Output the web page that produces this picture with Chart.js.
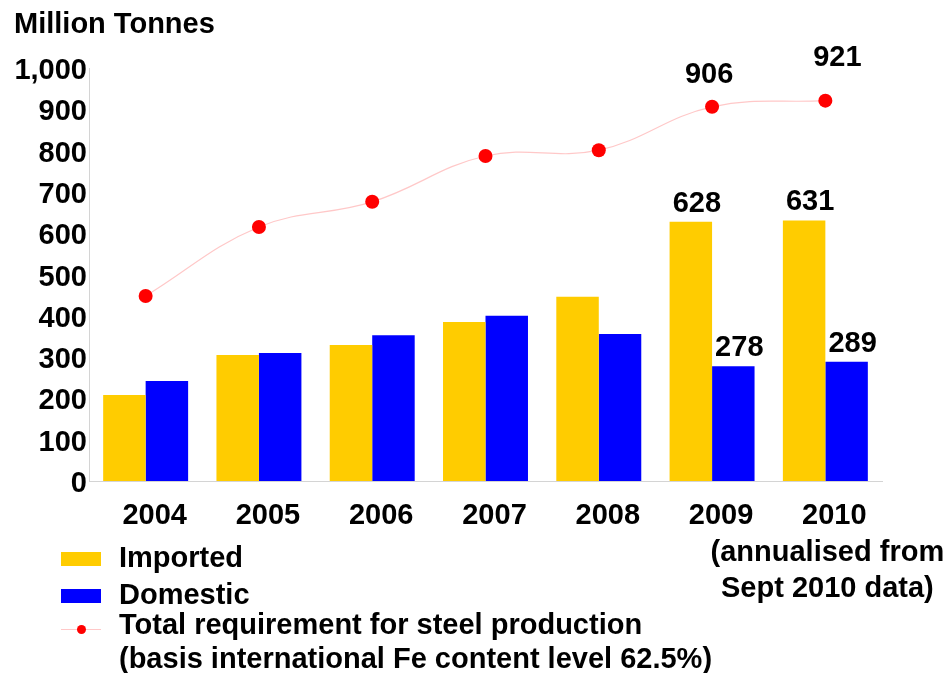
<!DOCTYPE html>
<html>
<head>
<meta charset="utf-8">
<script src="https://cdn.jsdelivr.net/npm/chart.js@4/dist/chart.umd.min.js"></script>
<style>
  body { margin: 0; background: #fff; }
  #wrap { position: relative; width: 945px; height: 673px; font-family: "Liberation Sans", Arial, sans-serif; font-weight: bold; color: #000; }
  #wrap canvas { position: absolute; left: 0; top: 0; }
  .txt { position: absolute; font-size: 29px; line-height: 28px; white-space: nowrap; }
  .box { position: absolute; width: 40px; height: 14px; }
</style>
</head>
<body>
<div id="wrap">
  <canvas id="steel-chart" width="945" height="673"></canvas>
  <div class="txt" style="left:14px; top:9px;">Million Tonnes</div>

  <div class="box" style="left:61px; top:552px; background:#ffcc00;"></div>
  <div class="txt" style="left:119px; top:543px;">Imported</div>
  <div class="box" style="left:61px; top:589px; background:#0000ff;"></div>
  <div class="txt" style="left:119px; top:580px;">Domestic</div>
  <div style="position:absolute; left:61px; top:629px; width:40px; height:1px; background:#ffc8c8;"></div>
  <div style="position:absolute; left:77px; top:625px; width:9px; height:9px; border-radius:50%; background:#ff0000;"></div>
  <div class="txt" style="left:119px; top:610px;">Total requirement for steel production</div>
  <div class="txt" style="left:119px; top:644px;">(basis international Fe content level 62.5%)</div>
</div>

<script>
// values (million tonnes)
const years = ['2004', '2005', '2006', '2007', '2008', '2009', '2010'];
const yearNote = ['(annualised from', 'Sept 2010 data)']; // sits under 2010
const imported = [208, 305, 329, 385, 446, 628, 631];
const domestic = [242, 310, 353, 400, 356, 278, 289];
const totalRequirement = [448, 615, 676, 787, 801, 906, 921];
const labelledPoints = [5, 6]; // only 2009 and 2010 carry value labels

const FONT_FAMILY = '"Liberation Sans", Arial, sans-serif';
const fontBold = { family: FONT_FAMILY, size: 29, weight: 'bold' };

// writes the numbers over the 2009 / 2010 bars and dots, plus the 2010 note
const valueLabels = {
    id: 'valueLabels',
    afterDatasetsDraw(chart) {
        const ctx = chart.ctx;
        ctx.save();
        ctx.font = 'bold 29px ' + FONT_FAMILY;
        ctx.fillStyle = '#000';
        ctx.textAlign = 'center';
        ctx.textBaseline = 'alphabetic';
        chart.data.datasets.forEach((ds, di) => {
            const meta = chart.getDatasetMeta(di);
            labelledPoints.forEach(i => {
                const el = meta.data[i];
                let dx = 6, dy = 10;
                if (ds.type === 'line') {
                    dx = i === 5 ? -3 : 12;
                    dy = i === 5 ? 24 : 35;
                }
                ctx.fillText(String(ds.data[i]), el.x + dx, el.y - dy);
            });
        });

        const xNote = chart.scales.x.getPixelForValue(years.length - 1) + 2;
        yearNote.forEach((line, k) => {
            ctx.fillText(line, xNote, 561 + k * 36);
        });
        ctx.restore();
    }
};

const ctx = document.getElementById('steel-chart').getContext('2d');
const steelChart = new Chart(ctx, {
    type: 'bar',
    data: {
        labels: years,
        datasets: [{
            type: 'line',
            label: 'Total requirement for steel production',
            data: totalRequirement,
            borderColor: '#ffc8c8',
            borderWidth: 1.2,
            tension: 0.4,
            pointRadius: 7,
            pointBackgroundColor: '#ff0000',
            pointBorderWidth: 0,
            order: 0
        }, {
            label: 'Imported',
            data: imported,
            backgroundColor: '#ffcc00',
            categoryPercentage: 0.75,
            barPercentage: 1.0,
            order: 1
        }, {
            label: 'Domestic',
            data: domestic,
            backgroundColor: '#0000ff',
            categoryPercentage: 0.75,
            barPercentage: 1.0,
            order: 1
        }]
    },
    options: {
        responsive: false,
        animation: false,
        layout: { padding: { top: 68, right: 63, left: 0, bottom: 0 } },
        plugins: {
            legend: { display: false },
            title: { display: false },
            tooltip: { enabled: false }
        },
        scales: {
            x: {
                grid: { display: false, drawTicks: false },
                border: { display: true, color: '#d4d4d4', width: 1 },
                ticks: {
                    color: '#000', font: fontBold, padding: 18, labelOffset: 9,
                    maxRotation: 0, minRotation: 0, autoSkip: false
                },
                afterFit(scale) {
                    scale.height = 192;
                    scale.paddingLeft = 0;
                    scale.paddingRight = 0;
                }
            },
            y: {
                min: 0,
                max: 1000,
                grid: { display: false, drawTicks: false },
                border: { display: true, color: '#d4d4d4', width: 1 },
                ticks: { stepSize: 100, color: '#000', font: fontBold, padding: 2, labelOffset: 3 },
                afterFit(scale) { scale.width = 89; }
            }
        }
    },
    plugins: [valueLabels]
});
</script>
</body>
</html>
